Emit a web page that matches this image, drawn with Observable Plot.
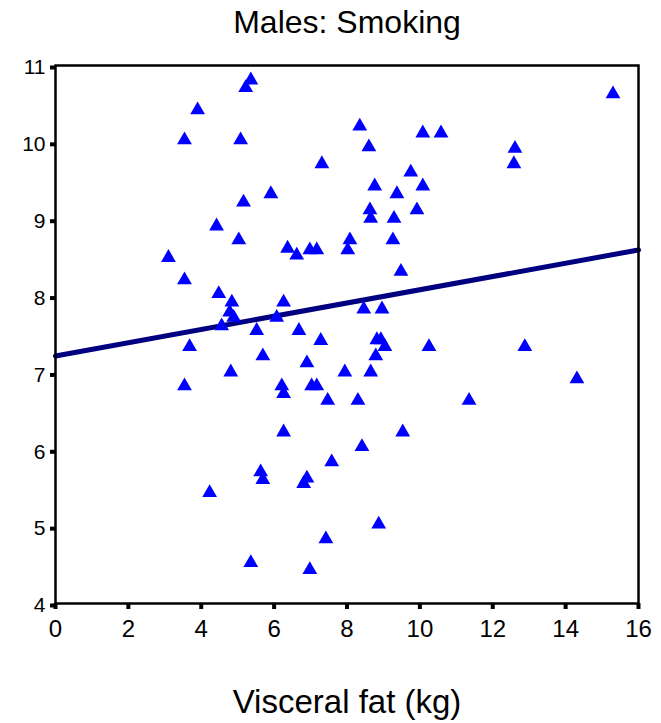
<!DOCTYPE html>
<html>
<head>
<meta charset="utf-8">
<script src="https://cdn.jsdelivr.net/npm/d3@7"></script>
<script src="https://cdn.jsdelivr.net/npm/@observablehq/plot@0.6"></script>
<style>
  html, body { margin: 0; padding: 0; background: #fff; }
  svg { font-family: "Liberation Sans", Arial, sans-serif; }
</style>
</head>
<body>
<div id="chart"></div>
<script>
const title = "Males: Smoking";
const xLabel = "Visceral fat (kg)";
const xTicks = [0, 2, 4, 6, 8, 10, 12, 14, 16];
const yTicks = [4, 5, 6, 7, 8, 9, 10, 11];

// Visceral fat (kg)
const fat = [
  3.10, 3.54, 3.54, 3.90, 3.68, 3.54, 4.42, 4.48, 4.56, 4.23,
  4.84, 4.78, 4.89, 4.81, 5.03, 5.08, 5.16, 5.22, 5.36, 5.36,
  5.52, 5.69, 5.63, 5.69, 5.91, 6.07, 6.26, 6.21, 6.26, 6.26,
  6.37, 6.62, 6.68, 6.81, 6.90, 6.90, 6.98, 6.98, 7.03, 7.17,
  7.17, 7.28, 7.31, 7.42, 7.47, 7.58, 7.94, 8.02, 8.08, 8.30,
  8.35, 8.41, 8.46, 8.60, 8.63, 8.65, 8.65, 8.76, 8.79, 8.82,
  8.87, 8.93, 8.96, 9.04, 9.26, 9.29, 9.37, 9.48, 9.53, 9.75,
  9.92, 10.08, 10.08, 10.25, 10.58, 11.35, 12.58, 12.61, 12.88, 14.31,
  15.30
];
// Outcome values
const value = [
  8.50, 8.21, 10.03, 10.42, 7.34, 6.83, 8.91, 8.03, 7.61, 5.44,
  7.92, 7.79, 7.72, 7.01, 8.73, 10.03, 9.22, 10.71, 10.81, 4.53,
  7.55, 7.22, 5.71, 5.61, 9.33, 7.72, 7.92, 6.83, 6.73, 6.23,
  8.62, 8.53, 7.55, 5.56, 5.63, 7.13, 8.60, 4.44, 6.83, 6.83,
  8.60, 7.42, 9.72, 4.84, 6.64, 5.84, 7.01, 8.60, 8.73, 6.64,
  10.21, 6.04, 7.83, 9.94, 9.12, 9.01, 7.01, 9.43, 7.22, 7.43,
  5.03, 7.43, 7.83, 7.34, 8.73, 9.01, 9.33, 8.32, 6.23, 9.61,
  9.12, 9.43, 10.12, 7.34, 10.12, 6.64, 9.72, 9.92, 7.34, 6.92,
  10.63
];
// Fitted regression line
const fitX = [0, 16];
const fitY = [7.22, 8.60];

const points = fat.map((x, i) => ({x, y: value[i]}));
const fit = fitX.map((x, i) => ({x, y: fitY[i]}));

const chart = Plot.plot({
  width: 661,
  height: 723,
  marginTop: 65,
  marginLeft: 55,
  marginRight: 23,
  marginBottom: 120,
  style: {fontFamily: '"Liberation Sans", Arial, sans-serif', color: "black", background: "white"},
  x: {domain: [0, 16]},
  y: {domain: [4, 11]},
  marks: [
    Plot.axisX({ticks: xTicks, tickSize: 6, tickPadding: 10, fontSize: 24, stroke: "black", strokeWidth: 4, label: null, tickFormat: d => String(d)}),
    Plot.axisY({ticks: yTicks, tickSize: 5, tickPadding: 5, fontSize: 21, stroke: "black", strokeWidth: 4, label: null, dy: 2, tickFormat: d => String(d)}),
    Plot.line(fit, {x: "x", y: "y", stroke: "#000080", strokeWidth: 5}),
    Plot.dot(points, {x: "x", y: "y", symbol: "triangle", fill: "#0000ff", r: 5.5}),
    Plot.frame({stroke: "black", strokeWidth: 2.5}),
    Plot.text([title], {text: d => d, frameAnchor: "top", dy: -43, fontSize: 32, lineAnchor: "middle", fill: "black"}),
    Plot.text([xLabel], {text: d => d, frameAnchor: "bottom", dy: 99, fontSize: 33, lineAnchor: "middle", fill: "black"})
  ]
});
document.getElementById("chart").appendChild(chart);
</script>
</body>
</html>
